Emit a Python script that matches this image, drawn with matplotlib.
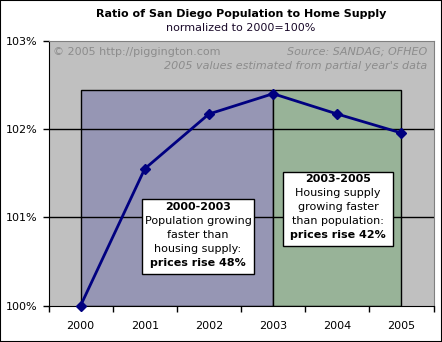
import matplotlib.pyplot as plt
from matplotlib.patches import Rectangle

# data
years = ["2000", "2001", "2002", "2003", "2004", "2005"]
ratio = [100.0, 101.55, 102.17, 102.40, 102.17, 101.955]
region_top = 102.44
purple_span = (0, 3)   # 2000 .. 2003
green_span = (3, 5)    # 2003 .. 2005

W, H = 442, 342
fig = plt.figure(figsize=(W / 100, H / 100), dpi=100)
plt.rcParams['font.family'] = ['DejaVu Sans']

# plot area in pixels
L, R, T, B = 48.5, 433.5, 40.7, 305.7
ax = fig.add_axes([L / W, 1 - B / H, (R - L) / W, (B - T) / H])
ax.set_facecolor('#C0C0C0')

def px(x, y):
    # pixel -> axes fraction
    return (x - L) / (R - L), (B - y) / (B - T)

# shaded periods
ax.add_patch(Rectangle((purple_span[0], 100), purple_span[1] - purple_span[0],
                       region_top - 100, facecolor='#9696B4', edgecolor='black',
                       lw=1, zorder=1))
ax.add_patch(Rectangle((green_span[0], 100), green_span[1] - green_span[0],
                       region_top - 100, facecolor='#98B398', edgecolor='black',
                       lw=1, zorder=1))

# gridlines
for v in [101, 102]:
    ax.axhline(v, color='black', lw=1, zorder=2)

x = list(range(len(years)))
ax.plot(x, ratio, color='#000080', lw=2, marker='D', ms=5, zorder=4, clip_on=False)

ax.set_xlim(-0.5, len(years) - 0.5)
ax.set_ylim(100, 103)
ax.set_yticks([100, 101, 102, 103])
ax.set_yticklabels(['100%', '101%', '102%', '103%'])
ax.set_xticks(x)
ax.set_xticklabels(years)
ax.set_xticks([i - 0.5 for i in range(len(years) + 1)], minor=True)
ax.tick_params(axis='x', which='major', length=0, pad=11, labelsize=8)
ax.tick_params(axis='x', which='minor', length=4, direction='out', width=1)
ax.tick_params(axis='y', length=4, direction='out', width=1, labelsize=8, pad=4)

for s in ['top', 'right']:
    ax.spines[s].set_color('#808080')
for s in ['left', 'bottom']:
    ax.spines[s].set_color('black')

# title
fig.text(241 / W, 1 - 14 / H, 'Ratio of San Diego Population to Home Supply',
         ha='center', va='center', fontsize=8, fontweight='bold')
fig.text(241 / W, 1 - 28 / H, 'normalized to 2000=100%',
         ha='center', va='center', fontsize=8, color='#1a0a2a')

# notes inside plot area
gray = '#8C8C8C'
ax.text(*px(53, 52), '\u00a9 2005 http://piggington.com', transform=ax.transAxes,
        ha='left', va='center', fontsize=8, color=gray, zorder=5)
ax.text(*px(427, 52), 'Source: SANDAG; OFHEO', transform=ax.transAxes,
        ha='right', va='center', fontsize=8, color=gray, style='italic', zorder=5)
ax.text(*px(427, 66), "2005 values estimated from partial year's data",
        transform=ax.transAxes, ha='right', va='center', fontsize=8,
        color=gray, style='italic', zorder=5)

# annotation boxes
def note(x0, y0, x1, y1, lines, cx, ys):
    a0 = px(x0, y1)
    a1 = px(x1, y0)
    ax.add_patch(Rectangle(a0, a1[0] - a0[0], a1[1] - a0[1], transform=ax.transAxes,
                           facecolor='white', edgecolor='black', lw=1, zorder=6))
    for (txt, bold), yy in zip(lines, ys):
        ax.text(*px(cx, yy), txt, transform=ax.transAxes, ha='center', va='center',
                fontsize=8, fontweight='bold' if bold else 'normal', zorder=7)

note(142, 199, 254, 274,
     [('2000-2003', True), ('Population growing', False), ('faster than', False),
      ('housing supply:', False), ('prices rise 48%', True)],
     198, [207, 221, 235, 249, 263])
note(283, 172, 393, 246,
     [('2003-2005', True), ('Housing supply', False), ('growing faster', False),
      ('than population:', False), ('prices rise 42%', True)],
     338, [179, 193, 207, 221, 235])

# outer border
fig.add_artist(Rectangle((0, 0), 1, 1, transform=fig.transFigure, fill=False,
                         edgecolor='black', lw=1.5))

fig.savefig('out.png', dpi=100)
